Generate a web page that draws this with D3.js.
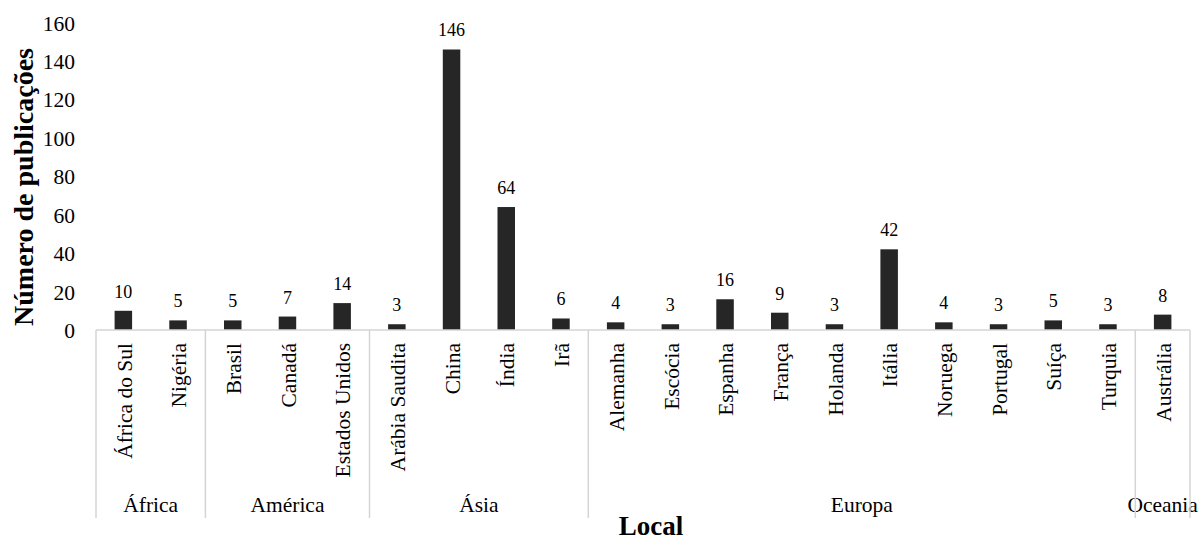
<!DOCTYPE html>
<html>
<head>
<meta charset="utf-8">
<script src="https://cdn.jsdelivr.net/npm/d3@7"></script>
<style>
  html, body { margin: 0; padding: 0; background: #fff; }
  svg { display: block; }
  svg text { font-family: "Liberation Serif", Tinos, "Times New Roman", "DejaVu Serif", serif; }
</style>
</head>
<body>
<svg id="chart" width="1199" height="540"></svg>
<script>
// Publications per country, grouped by continent
const countries = ["África do Sul", "Nigéria", "Brasil", "Canadá", "Estados Unidos",
  "Arábia Saudita", "China", "Índia", "Irã",
  "Alemanha", "Escócia", "Espanha", "França", "Holanda", "Itália", "Noruega", "Portugal", "Suíça", "Turquia",
  "Austrália"];
const publications = [10, 5, 5, 7, 14, 3, 146, 64, 6, 4, 3, 16, 9, 3, 42, 4, 3, 5, 3, 8];
const regions = ["África", "América", "Ásia", "Europa", "Oceania"];
const regionSizes = [2, 3, 4, 10, 1];
const yTicks = [0, 20, 40, 60, 80, 100, 120, 140, 160];

const svg = d3.select("#chart");
const left = 96, right = 1190, baseY = 330, topY = 22.6;

const x = d3.scaleBand().domain(countries).range([left, right]).padding(0);
const y = d3.scaleLinear().domain([0, 160]).range([baseY, topY]);
const barW = x.step() * 0.32;

// y tick labels (no axis line)
const yAxis = d3.axisLeft(y).tickValues(yTicks).tickSize(0).tickPadding(0);
const gy = svg.append("g").attr("transform", "translate(75,0)").call(yAxis);
gy.attr("font-family", null);
gy.select(".domain").remove();
gy.selectAll("text")
  .attr("font-size", 21.5)
  .attr("fill", "#000")
  .attr("dy", "0.35em");

// bars
svg.append("g").selectAll("rect")
  .data(countries)
  .join("rect")
  .attr("x", (d) => x(d) + x.step() / 2 - barW / 2)
  .attr("y", (d, i) => y(publications[i]))
  .attr("width", barW)
  .attr("height", (d, i) => baseY - y(publications[i]))
  .attr("fill", "#262626");

// value labels
svg.append("g").selectAll("text")
  .data(countries)
  .join("text")
  .attr("x", (d) => x(d) + x.step() / 2)
  .attr("y", (d, i) => y(publications[i]) - 13)
  .attr("text-anchor", "middle")
  .attr("font-size", 18)
  .attr("fill", "#000")
  .text((d, i) => publications[i]);

// category axis line
const axisColor = "#d4d4d4";
svg.append("line")
  .attr("x1", left).attr("x2", right)
  .attr("y1", baseY).attr("y2", baseY)
  .attr("stroke", axisColor).attr("stroke-width", 1.5);

// country labels, rotated
svg.append("g").selectAll("text")
  .data(countries)
  .join("text")
  .attr("transform", (d) => `translate(${x(d) + x.step() / 2},343) rotate(-90)`)
  .attr("text-anchor", "end")
  .attr("dy", "0.38em")
  .attr("font-size", 21.5)
  .attr("fill", "#000")
  .text((d) => d);

// continent separators and labels
let idx = 0;
const bounds = [left];
regions.forEach((r, k) => {
  const start = x(countries[idx]);
  idx += regionSizes[k];
  const end = idx < countries.length ? x(countries[idx]) : right;
  bounds.push(end);
  svg.append("text")
    .attr("x", (start + end) / 2)
    .attr("y", 512)
    .attr("text-anchor", "middle")
    .attr("font-size", 21.5)
    .attr("fill", "#000")
    .text(r);
});
svg.append("g").selectAll("line")
  .data(bounds)
  .join("line")
  .attr("x1", (d) => d).attr("x2", (d) => d)
  .attr("y1", baseY).attr("y2", 518)
  .attr("stroke", axisColor).attr("stroke-width", 1.5);

// axis titles
svg.append("text")
  .attr("x", 651).attr("y", 535)
  .attr("text-anchor", "middle")
  .attr("font-size", 27)
  .attr("font-weight", "bold")
  .attr("fill", "#000")
  .text("Local");

svg.append("text")
  .attr("transform", "translate(33,187) rotate(-90)")
  .attr("text-anchor", "middle")
  .attr("font-size", 28)
  .attr("font-weight", "bold")
  .attr("fill", "#000")
  .text("Número de publicações");
</script>
</body>
</html>
